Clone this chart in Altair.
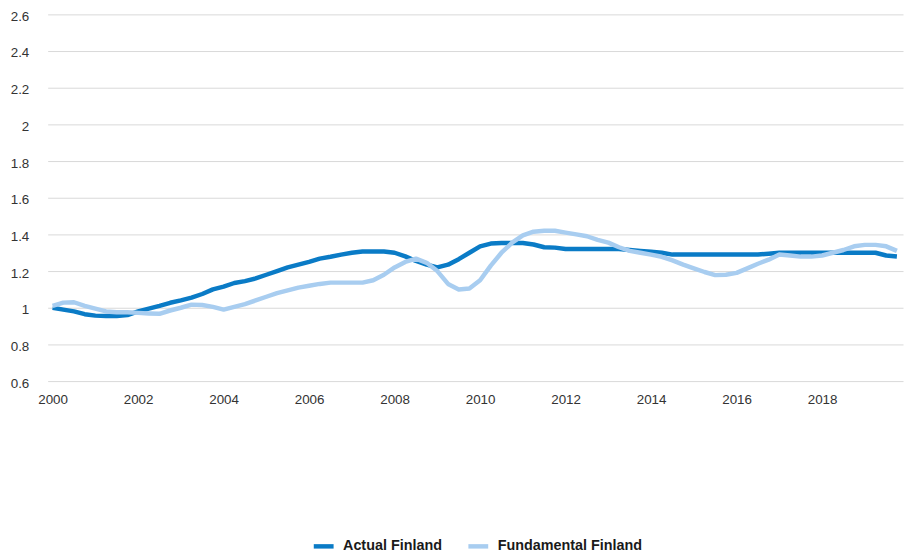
import altair as alt
import pandas as pd

# Quarterly data 2000Q1 .. 2019Q4
actual = [
    1.00, 0.99, 0.98, 0.965, 0.957, 0.955, 0.955, 0.96,
    0.98, 0.995, 1.01, 1.027, 1.04, 1.055, 1.075, 1.10,
    1.115, 1.135, 1.145, 1.16, 1.18, 1.20, 1.22, 1.235,
    1.25, 1.268, 1.278, 1.29, 1.30, 1.307, 1.307, 1.307,
    1.30, 1.28, 1.255, 1.235, 1.22, 1.235, 1.265, 1.30,
    1.335, 1.35, 1.353, 1.353, 1.353, 1.345, 1.33, 1.328,
    1.32, 1.32, 1.32, 1.32, 1.32, 1.32, 1.315, 1.31,
    1.306, 1.30, 1.29, 1.29, 1.29, 1.29, 1.29, 1.29,
    1.29, 1.29, 1.29, 1.295, 1.30, 1.30, 1.30, 1.30,
    1.30, 1.30, 1.30, 1.30, 1.30, 1.30, 1.285, 1.28,
]
fundamental = [
    1.01, 1.028, 1.03, 1.01, 0.995, 0.98, 0.976, 0.976,
    0.972, 0.969, 0.967, 0.985, 1.00, 1.017, 1.015, 1.005,
    0.99, 1.005, 1.02, 1.04, 1.06, 1.08, 1.095, 1.11,
    1.12, 1.13, 1.137, 1.137, 1.137, 1.137, 1.15, 1.18,
    1.22, 1.25, 1.268, 1.245, 1.20, 1.13, 1.10, 1.105,
    1.15, 1.23, 1.30, 1.355, 1.395, 1.415, 1.42, 1.42,
    1.41, 1.40, 1.39, 1.37, 1.355, 1.33, 1.31, 1.30,
    1.29, 1.278, 1.258, 1.235, 1.215, 1.195, 1.178, 1.18,
    1.19, 1.215, 1.24, 1.262, 1.29, 1.285, 1.279, 1.279,
    1.285, 1.30, 1.315, 1.335, 1.343, 1.343, 1.335, 1.31,
]
series_names = ["Actual Finland", "Fundamental Finland"]
series_colors = ["#0A7BC6", "#A8CDF0"]
x_ticks = list(range(2000, 2019, 2))
y_ticks = [0.6, 0.8, 1.0, 1.2, 1.4, 1.6, 1.8, 2.0, 2.2, 2.4, 2.6]

n = len(actual)
t = [2000 + q / 4 for q in range(n)]
df = pd.concat([
    pd.DataFrame({"t": t, "value": actual, "series": series_names[0]}),
    pd.DataFrame({"t": t, "value": fundamental, "series": series_names[1]}),
])

font = "Liberation Sans"

chart = alt.Chart(df).mark_line(strokeWidth=4.5, strokeCap="butt", strokeJoin="round").encode(
    x=alt.X("t:Q",
            scale=alt.Scale(domain=[1999.884, 2019.893], nice=False, zero=False),
            axis=alt.Axis(values=x_ticks, format="d", title=None, grid=False,
                          domain=False, ticks=False, labelPadding=12,
                          labelFontSize=13.5, labelFont=font, labelColor="#333333",
                          labelFlush=False)),
    y=alt.Y("value:Q",
            scale=alt.Scale(domain=[0.6, 2.6], nice=False, zero=False),
            axis=alt.Axis(values=y_ticks, format="~g", title=None, grid=True,
                          gridColor="#D9D9D9", gridWidth=1, domain=False, ticks=False,
                          labelPadding=19, labelFontSize=13.5, labelFont=font,
                          labelOffset=2, labelColor="#333333")),
    color=alt.Color("series:N",
                    scale=alt.Scale(domain=series_names, range=series_colors),
                    legend=alt.Legend(title=None, orient="none", direction="horizontal",
                                      legendX=266, legendY=524,
                                      symbolType="stroke", symbolSize=400,
                                      symbolStrokeWidth=4.5, labelOffset=7,
                                      columnPadding=17, labelFont=font,
                                      labelFontSize=14.5, labelFontWeight="bold",
                                      labelColor="#1a1a1a")),
    order=alt.Order("series:N", sort="descending"),
).properties(
    width=863, height=370,
    autosize=alt.AutoSizeParams(type="none"),
    padding={"left": 40, "top": 4, "right": 1, "bottom": 170},
).configure_view(stroke=None)

chart.save("out.html", embed_options={"renderer": "svg", "actions": False})
